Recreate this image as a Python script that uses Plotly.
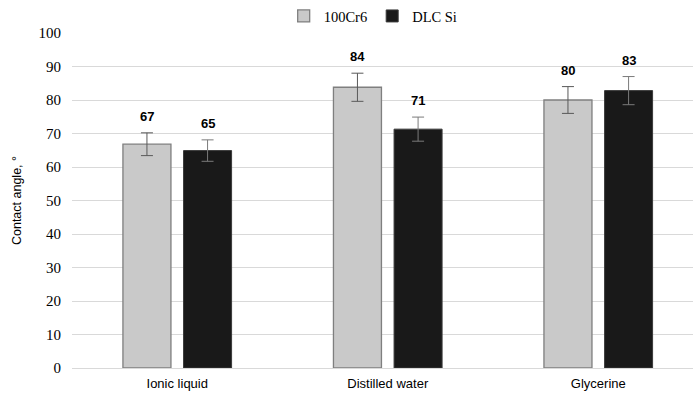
import plotly.graph_objects as go

categories = ["Ionic liquid", "Distilled water", "Glycerine"]
cr6_values = [66.8, 83.8, 80.0]
cr6_errors = [3.4, 4.2, 4.0]
dlc_values = [64.9, 71.3, 82.8]
dlc_errors = [3.2, 3.6, 4.2]
cr6_labels = ["67", "84", "80"]
dlc_labels = ["65", "71", "83"]
y_ticks = [0, 10, 20, 30, 40, 50, 60, 70, 80, 90, 100]

fig = go.Figure()
fig.add_trace(go.Bar(
    name="100Cr6", x=categories, y=cr6_values,
    marker=dict(color="#c9c9c9", line=dict(color="#7f7f7f", width=1.3)),
    error_y=dict(type="data", array=cr6_errors, color="#595959", thickness=1, width=6),
))
fig.add_trace(go.Bar(
    name="DLC Si", x=categories, y=dlc_values,
    marker=dict(color="#191919", line=dict(color="#3a3a3a", width=1)),
    error_y=dict(type="data", array=dlc_errors, color="#7a7a7a", thickness=1, width=6),
))

annotations = []
for i, c in enumerate(categories):
    for vals, errs, labs, off in ((cr6_values, cr6_errors, cr6_labels, -0.5),
                                  (dlc_values, dlc_errors, dlc_labels, 0.5)):
        annotations.append(dict(
            x=c, y=vals[i] + errs[i], text=f"<b>{labs[i]}</b>", showarrow=False,
            xref="x", yref="y", yanchor="bottom", yshift=7, xshift=off * 60.6,
            font=dict(family="Liberation Sans, Arial, sans-serif", size=13, color="#000000"),
        ))

fig.update_layout(
    width=694, height=396,
    margin=dict(l=72, r=1, t=33, b=28, autoexpand=False),
    paper_bgcolor="white", plot_bgcolor="white",
    barmode="group", bargap=0.424, bargroupgap=0.208,
    showlegend=True,
    legend=dict(orientation="h", x=0.485, xanchor="center", y=1.0, yanchor="top",
                yref="container",
                font=dict(family="Liberation Serif, Times New Roman, serif", size=14.5, color="#000"),
                itemwidth=30, traceorder="normal"),
    annotations=annotations,
    xaxis=dict(showline=False, ticks="", showgrid=False, ticklabelstandoff=6,
               range=[-0.5, 2.45],
               tickfont=dict(family="Liberation Sans, Arial, sans-serif", size=13, color="#000")),
    yaxis=dict(range=[0, 100], tickvals=y_ticks, showgrid=True, gridcolor="#d9d9d9",
               gridwidth=1, zeroline=True, zerolinecolor="#d9d9d9", zerolinewidth=1,
               ticks="", ticklen=0, ticklabelstandoff=10, automargin=False,
               tickfont=dict(family="Liberation Serif, Times New Roman, serif", size=15, color="#000"),
               title=dict(text="Contact angle, °", standoff=14,
                          font=dict(family="Liberation Sans, Arial, sans-serif", size=12.5, color="#000"))),
)

fig.write_html("out.html")
